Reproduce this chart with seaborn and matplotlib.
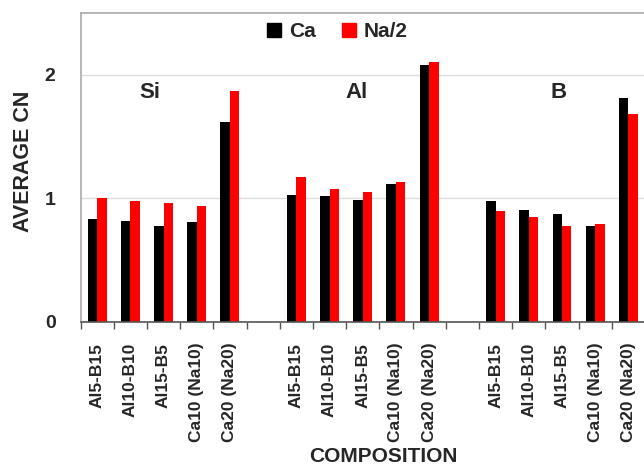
import matplotlib
matplotlib.use("Agg")
import matplotlib.pyplot as plt
import matplotlib.lines as mlines
import numpy as np
import pandas as pd
import seaborn as sns

# ---- data ----
groups = ["Si", "Al", "B"]
compositions = ["Al5-B15", "Al10-B10", "Al15-B5", "Ca10 (Na10)", "Ca20 (Na20)"]
series = ["Ca", "Na/2"]
ca_si = [0.83, 0.82, 0.78, 0.81, 1.62]
na_si = [1.00, 0.98, 0.96, 0.94, 1.87]
ca_al = [1.03, 1.02, 0.99, 1.12, 2.08]
na_al = [1.17, 1.08, 1.05, 1.13, 2.10]
ca_b = [0.98, 0.91, 0.87, 0.78, 1.81]
na_b = [0.90, 0.85, 0.78, 0.79, 1.68]
yticks = [0, 1, 2]

values = {"Si": (ca_si, na_si), "Al": (ca_al, na_al), "B": (ca_b, na_b)}

rows = []
order = []
tick_labels = []
for gi, g in enumerate(groups):
    if gi > 0:
        order.append(f"gap{gi}")
        tick_labels.append("")
    for ci, c in enumerate(compositions):
        key = f"{g}|{c}"
        order.append(key)
        tick_labels.append(c)
        rows.append({"slot": key, "series": series[0], "cn": values[g][0][ci]})
        rows.append({"slot": key, "series": series[1], "cn": values[g][1][ci]})
df = pd.DataFrame(rows)

sns.set_style("white")
plt.rcParams["font.family"] = ["Liberation Sans", "DejaVu Sans"]
plt.rcParams["font.weight"] = "bold"

fig = plt.figure(figsize=(6.44, 4.69), dpi=100)
ax = fig.add_axes([80.5 / 644, 147 / 469, 564.5 / 644, 309 / 469])

sns.barplot(data=df, x="slot", y="cn", hue="series", order=order,
            hue_order=series, palette=["#000000", "#ff0000"], saturation=1,
            width=0.57, gap=0, errorbar=None, linewidth=0, ax=ax, legend=False)

n = len(order)
ax.set_xlim(-0.5, n - 0.5)
ax.set_ylim(0, 2.5)
ax.set_yticks(yticks)
ax.set_yticklabels([str(t) for t in yticks], fontsize=14, fontweight="bold")
ax.yaxis.grid(True, color="#dddddd", linewidth=1)
ax.set_axisbelow(True)

ax.set_xticks(range(n))
ax.set_xticklabels(tick_labels, rotation=90, fontsize=12.5, fontweight="bold")
ax.set_xticks(np.arange(-0.5, n, 1.0), minor=True)
ax.tick_params(axis="x", which="major", length=0, pad=15)
ax.tick_params(axis="x", which="minor", length=5, color="#555555", width=1, direction="out", bottom=True)
ax.tick_params(axis="y", length=0, pad=18)

for s in ["top", "left", "right"]:
    ax.spines[s].set_color("#aaaaaa")
    ax.spines[s].set_linewidth(1.2)
ax.spines["bottom"].set_color("#555555")
ax.spines["bottom"].set_linewidth(1.2)

ax.set_xlabel("")
ax.set_ylabel("")
fig.text(24 / 644, 1 - 161 / 469, "AVERAGE CN", rotation=90, ha="center", va="center",
         fontsize=15.5, fontweight="bold")
fig.text(383 / 644, 1 - 456 / 469, "COMPOSITION", ha="center", va="center",
         fontsize=15, fontweight="bold")

label_x = [1.6, 7.8, 13.9]
for g, xx in zip(groups, label_x):
    ax.text(xx, 1.86, g, ha="center", va="center", fontsize=16, fontweight="bold")

handles = [mlines.Line2D([], [], linestyle="none", marker="s", markersize=10,
                         markerfacecolor=c, markeredgecolor=c)
           for c in ["#000000", "#ff0000"]]
ax.legend(handles, series, loc="center", bbox_to_anchor=(0.454, 0.94), ncol=2,
          frameon=False, handlelength=0.8, handletextpad=0.3, columnspacing=1.2,
          prop={"size": 15, "weight": "bold"})

fig.savefig("out.png", dpi=100)
